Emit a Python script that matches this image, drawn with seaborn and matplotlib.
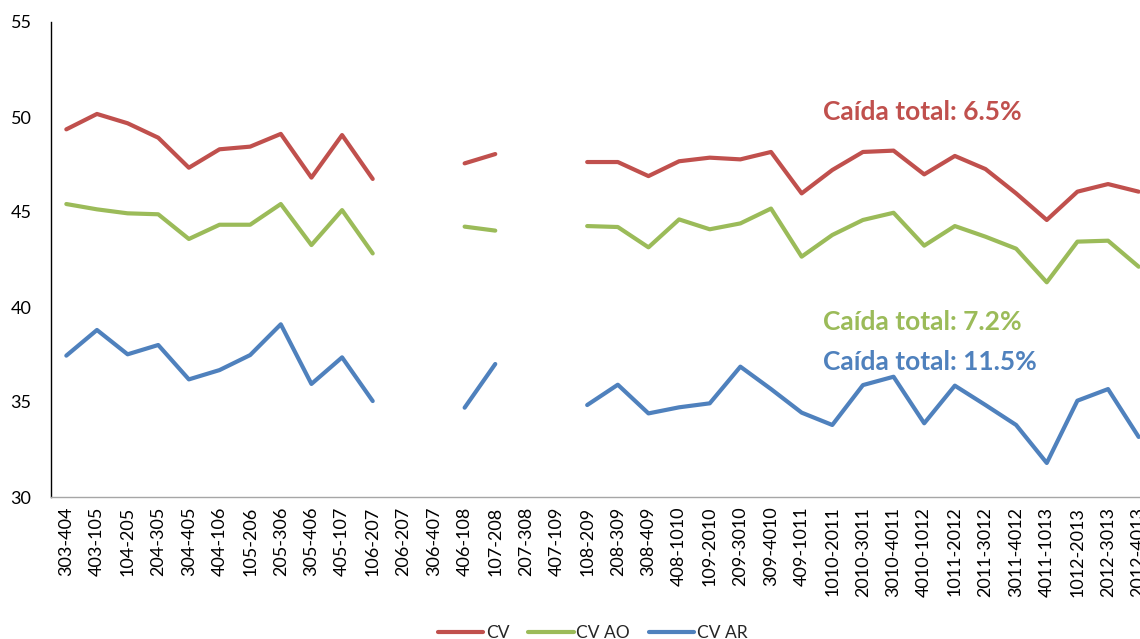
import numpy as np
import pandas as pd
import matplotlib
matplotlib.use('Agg')
import matplotlib.pyplot as plt
import seaborn as sns

nan = np.nan

# Periodos (etiquetas del eje x)
labels = ['303-404', '403-105', '104-205', '204-305', '304-405', '404-106',
          '105-206', '205-306', '305-406', '405-107', '106-207', '206-207',
          '306-407', '406-108', '107-208', '207-308', '407-109', '108-209',
          '208-309', '308-409', '408-1010', '109-2010', '209-3010', '309-4010',
          '409-1011', '1010-2011', '2010-3011', '3010-4011', '4010-1012',
          '1011-2012', '2011-3012', '3011-4012', '4011-1013', '1012-2013',
          '2012-3013', '2012-4013']

cv = [49.35, 50.16, 49.67, 48.91, 47.33, 48.30, 48.44, 49.11, 46.81, 49.05,
      46.74, nan, nan, 47.56, 48.05, nan, nan, 47.63, 47.63, 46.89, 47.67,
      47.86, 47.77, 48.16, 45.98, 47.21, 48.16, 48.23, 46.98, 47.95, 47.26,
      45.98, 44.58, 46.07, 46.47, 46.07]

cv_ao = [45.42, 45.14, 44.93, 44.88, 43.58, 44.33, 44.33, 45.42, 43.26, 45.10,
         42.82, nan, nan, 44.23, 44.02, nan, nan, 44.26, 44.21, 43.14, 44.61,
         44.09, 44.40, 45.18, 42.65, 43.79, 44.58, 44.96, 43.23, 44.26, 43.70,
         43.07, 41.30, 43.44, 43.49, 42.12]

cv_ar = [37.44, 38.79, 37.51, 38.00, 36.19, 36.68, 37.47, 39.09, 35.95, 37.35,
         35.05, nan, nan, 34.70, 37.00, nan, nan, 34.84, 35.91, 34.40, 34.72,
         34.93, 36.86, 35.68, 34.44, 33.79, 35.89, 36.33, 33.88, 35.86, 34.84,
         33.79, 31.79, 35.07, 35.68, 33.16]

series_names = ['CV', 'CV AO', 'CV AR']
colors = {'CV': '#C0504D', 'CV AO': '#9BBB59', 'CV AR': '#4F81BD'}
notes = ['Caída total: 6.5%', 'Caída total: 7.2%', 'Caída total: 11.5%']

# Build long table, with a segment id so missing periods leave gaps
rows = []
for name, vals in zip(series_names, [cv, cv_ao, cv_ar]):
    seg = 0
    for i, v in enumerate(vals):
        if np.isnan(v):
            seg += 1
            continue
        rows.append({'x': i, 'valor': v, 'serie': name, 'seg': f'{name}_{seg}'})
df = pd.DataFrame(rows)

sns.set_theme(style='white')
plt.rcParams['font.family'] = ['Lato', 'DejaVu Sans']

fig = plt.figure(figsize=(11.4, 6.39), dpi=100)
# axes run past the right edge, as in the original (last label is cut)
ax = fig.add_axes([51 / 1140, 142 / 639, 1103 / 1140, 475 / 639])

sns.lineplot(data=df, x='x', y='valor', hue='serie', units='seg',
             estimator=None, palette=colors, hue_order=series_names,
             linewidth=3, ax=ax, legend=True)

ax.set_xlim(-0.5, len(labels) - 0.5)
ax.set_ylim(30, 55)
ax.set_yticks(range(30, 56, 5))
ax.set_xticks(range(len(labels)))
ax.set_xticklabels(labels, rotation=90, fontsize=13, color='black')
ax.tick_params(axis='y', labelsize=13, labelcolor='black', length=0, pad=14)
ax.tick_params(axis='x', length=0, pad=7)
ax.set_xlabel('')
ax.set_ylabel('')

for side in ['top', 'right']:
    ax.spines[side].set_visible(False)
ax.spines['left'].set_color('black')
ax.spines['left'].set_linewidth(1)
ax.spines['bottom'].set_color('#A6A6A6')
ax.spines['bottom'].set_linewidth(1)

# annotations
note_y = [50.26, 39.21, 37.1]
for name, txt, yy in zip(series_names, notes, note_y):
    ax.text(24.69, yy, txt, color=colors[name], fontsize=19,
            fontweight='bold', ha='left', va='center')

handles, lbls = ax.get_legend_handles_labels()
ax.get_legend().remove()
fig.legend(handles, lbls, loc='lower center', bbox_to_anchor=(0.52, -0.027),
           ncol=3, frameon=False, fontsize=12.5, handlelength=2.6,
           columnspacing=1.1, handletextpad=0.15)

fig.savefig('out.png', dpi=100)
